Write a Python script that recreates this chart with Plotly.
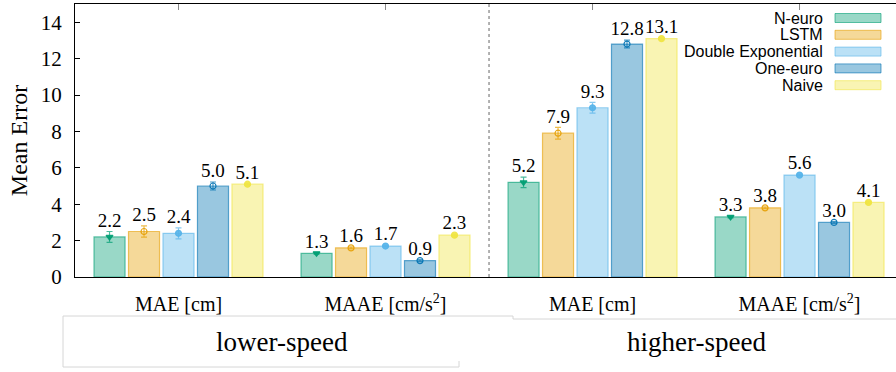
import plotly.graph_objects as go

# ---------------- data ----------------
categories = ["low-MAE", "low-MAAE", "high-MAE", "high-MAAE"]
tick_labels = ["MAE [cm]", "MAAE [cm/s<sup>2</sup>]", "MAE [cm]", "MAAE [cm/s<sup>2</sup>]"]
speed_groups = ["lower-speed", "higher-speed"]
series_names = ["N-euro", "LSTM", "Double Exponential", "One-euro", "Naive"]

n_euro = [2.2, 1.3, 5.2, 3.3]
lstm = [2.5, 1.6, 7.9, 3.8]
double_exp = [2.4, 1.7, 9.3, 5.6]
one_euro = [5.0, 0.9, 12.8, 3.0]
naive = [5.1, 2.3, 13.1, 4.1]

n_euro_err = [0.30, 0.05, 0.29, 0.05]
lstm_err = [0.31, 0.05, 0.32, 0.05]
double_exp_err = [0.30, 0.05, 0.30, 0.05]
one_euro_err = [0.22, 0.05, 0.21, 0.05]
naive_err = [0.05, 0.05, 0.05, 0.05]

values = [n_euro, lstm, double_exp, one_euro, naive]
errors = [n_euro_err, lstm_err, double_exp_err, one_euro_err, naive_err]

# ---------------- styles ----------------
base_rgb = [(0, 158, 115), (230, 159, 0), (86, 180, 233), (0, 114, 178), (240, 228, 66)]
markers = ["triangle-down", "circle-open", "circle", "circle-open", "circle"]
SERIF = "Liberation Serif, Times New Roman, Times, serif"
SANS = "Liberation Sans, Arial, Helvetica, sans-serif"

def rgba(c, a):
    return f"rgba({c[0]},{c[1]},{c[2]},{a})"

W, H = 896, 372
L, R, T, B = 75, 0, 4, 95
PW, PH = W - L - R, H - T - B

def px(x):
    return (x - L) / PW

def py(y):
    return (H - B - y) / PH

fig = go.Figure()

for i, name in enumerate(series_names):
    c = base_rgb[i]
    fig.add_trace(go.Bar(
        x=categories, y=values[i], name=name, offsetgroup=name,
        marker=dict(color=rgba(c, 0.4), line=dict(color=rgba(c, 0.6), width=1.2)),
        showlegend=False, hoverinfo="skip",
    ))

for i, name in enumerate(series_names):
    c = base_rgb[i]
    fig.add_trace(go.Scatter(
        x=categories, y=values[i], mode="markers", offsetgroup=name,
        marker=dict(symbol=markers[i], size=6, color=rgba(c, 0.9),
                    line=dict(color=rgba(c, 0.9), width=1.2)),
        error_y=dict(type="data", array=errors[i], visible=True,
                     color=rgba(c, 0.7), thickness=1.2, width=3),
        showlegend=False, hoverinfo="skip",
    ))

for i, name in enumerate(series_names):
    fig.add_trace(go.Scatter(
        x=categories, y=[v + e for v, e in zip(values[i], errors[i])],
        mode="text", offsetgroup=name,
        text=[f"{v:.1f}" for v in values[i]], textposition="top center",
        textfont=dict(family=SERIF, size=19, color="black"),
        showlegend=False, hoverinfo="skip",
    ))

shapes = []
# dotted separator between speed groups
shapes.append(dict(type="line", xref="x", yref="paper", x0=1.5, x1=1.5, y0=0, y1=1,
                   line=dict(color="#666666", width=1, dash="dot")))
# top mirror ticks
for k in range(len(categories)):
    shapes.append(dict(type="line", xref="x", yref="paper", x0=k, x1=k,
                       y0=1, y1=1 - 6 / PH, line=dict(color="#888888", width=1)))
# faint table lines below the chart
grey = dict(color="#d6d6d6", width=1)
shapes += [
    dict(type="line", xref="paper", yref="paper", x0=px(63), x1=px(513), y0=py(316), y1=py(316), line=grey),
    dict(type="line", xref="paper", yref="paper", x0=px(513), x1=px(513), y0=py(316), y1=py(319), line=grey),
    dict(type="line", xref="paper", yref="paper", x0=px(513), x1=1, y0=py(319), y1=py(319), line=grey),
    dict(type="line", xref="paper", yref="paper", x0=px(63), x1=px(63), y0=py(316), y1=py(367), line=grey),
    dict(type="line", xref="paper", yref="paper", x0=px(63), x1=px(459), y0=py(367), y1=py(367), line=grey),
    dict(type="line", xref="paper", yref="paper", x0=px(459), x1=px(459), y0=py(361), y1=py(367), line=grey),
]

annotations = []
for g, label in enumerate(speed_groups):
    annotations.append(dict(xref="x", yref="paper", x=2 * g + 0.5, y=py(342),
                            text=label, showarrow=False, xanchor="center", yanchor="middle",
                            font=dict(family=SERIF, size=27, color="black")))

# custom legend: right aligned text with swatch on the right
for i, name in enumerate(series_names):
    c = base_rgb[i]
    yc = 18 + i * 16.8
    annotations.append(dict(xref="paper", yref="paper", x=px(825), y=py(yc),
                            text=name, showarrow=False, xanchor="right", yanchor="middle",
                            font=dict(family=SANS, size=16, color="black")))
    shapes.append(dict(type="rect", xref="paper", yref="paper",
                       x0=px(835), x1=px(881), y0=py(yc + 4.5), y1=py(yc - 4.5),
                       fillcolor=rgba(c, 0.4), line=dict(color=rgba(c, 0.6), width=1)))

fig.update_layout(
    width=W, height=H,
    margin=dict(l=L, r=R, t=T, b=B),
    paper_bgcolor="white", plot_bgcolor="white",
    barmode="group", bargap=0.167, bargroupgap=0.1,
    scattermode="group", scattergap=0.167,
    showlegend=False,
    shapes=shapes, annotations=annotations,
    xaxis=dict(type="category", range=[-0.5, 3.466], tickvals=categories, ticktext=tick_labels,
               showline=True, linecolor="black", linewidth=1.2, mirror=True,
               ticks="", showgrid=False, zeroline=False,
               tickfont=dict(family=SERIF, size=20, color="black"), ticklabelstandoff=9),
    yaxis=dict(range=[0, 15], tickvals=[0, 2, 4, 6, 8, 10, 12, 14],
               showline=True, linecolor="black", linewidth=1.2,
               ticks="inside", ticklen=5, tickcolor="black",
               showgrid=False, zeroline=False,
               tickfont=dict(family=SERIF, size=21, color="black"), ticklabelstandoff=8,
               title=dict(text="Mean Error", font=dict(family=SERIF, size=24, color="black"), standoff=6)),
)

fig.write_html("out.html")
